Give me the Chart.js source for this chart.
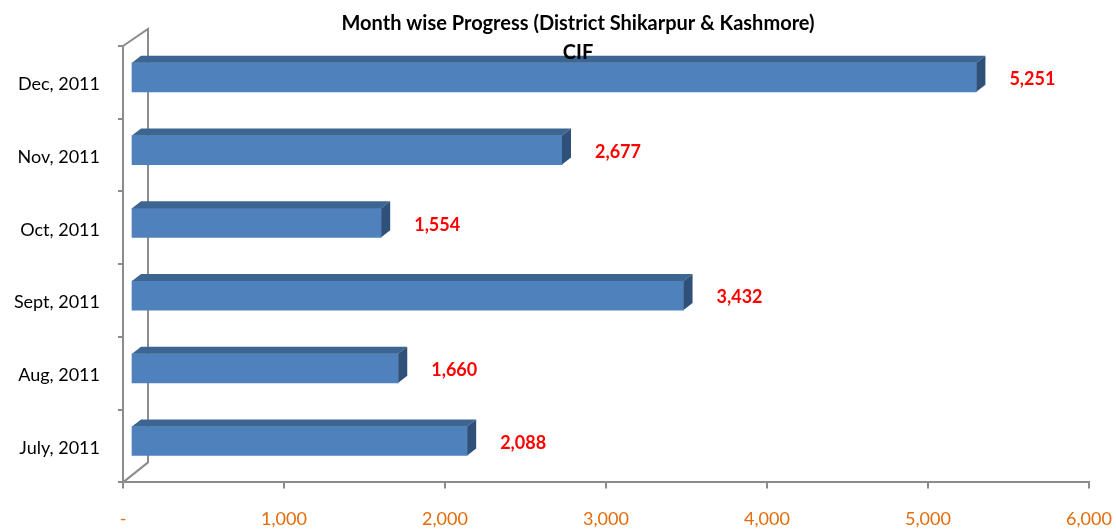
<!DOCTYPE html>
<html>
<head>
<meta charset="utf-8">
<script src="https://cdn.jsdelivr.net/npm/chart.js@4.4.1/dist/chart.umd.min.js"></script>
<style>
  html, body { margin: 0; padding: 0; background: #fff; overflow: hidden; }
  #wrap { position: relative; width: 1116px; height: 529px; }
  canvas { display: block; }
</style>
</head>
<body>
<div id="wrap"><canvas id="cifChart"></canvas></div>
<script>
const months = ['Dec, 2011', 'Nov, 2011', 'Oct, 2011', 'Sept, 2011', 'Aug, 2011', 'July, 2011'];
const cifValues = [5251, 2677, 1554, 3432, 1660, 2088];
const xTicks = [0, 1000, 2000, 3000, 4000, 5000, 6000];
const titleLines = ['Month wise Progress (District Shikarpur & Kashmore)', 'CIF'];

// 3D look: front face is pushed back into the box, top and side faces drawn after
const DEPTH_X = 8, DEPTH_Y = -5, FACE_X = 9, FACE_Y = -7;

const fake3d = {
  id: 'fake3d',
  beforeDraw(chart) {
    const ctx = chart.ctx;
    const a = chart.chartArea;
    // left side wall of the box
    ctx.save();
    ctx.strokeStyle = '#8c8c8c';
    ctx.lineWidth = 2;
    ctx.beginPath();
    ctx.moveTo(a.left, a.top);
    ctx.lineTo(a.left + 25, a.top - 17);
    ctx.lineTo(a.left + 25, a.bottom - 20);
    ctx.lineTo(a.left, a.bottom);
    ctx.stroke();
    ctx.restore();
  },
  beforeDatasetsDraw(chart) {
    chart.ctx.save();
    chart.ctx.translate(DEPTH_X, DEPTH_Y);
  },
  afterDatasetsDraw(chart) {
    const ctx = chart.ctx;
    const meta = chart.getDatasetMeta(0);
    meta.data.forEach(function(bar) {
      const p = bar.getProps(['x', 'y', 'base', 'height'], true);
      const top = p.y - p.height / 2;
      const bottom = p.y + p.height / 2;
      // top face
      ctx.fillStyle = '#3d6591';
      ctx.beginPath();
      ctx.moveTo(p.base, top);
      ctx.lineTo(p.base + FACE_X, top + FACE_Y);
      ctx.lineTo(p.x + FACE_X, top + FACE_Y);
      ctx.lineTo(p.x, top);
      ctx.closePath();
      ctx.fill();
      // side face
      ctx.fillStyle = '#2f5078';
      ctx.beginPath();
      ctx.moveTo(p.x, top);
      ctx.lineTo(p.x + FACE_X, top + FACE_Y);
      ctx.lineTo(p.x + FACE_X, bottom + FACE_Y);
      ctx.lineTo(p.x, bottom);
      ctx.closePath();
      ctx.fill();
    });
    ctx.restore();

    // value labels
    ctx.save();
    ctx.fillStyle = '#ff0000';
    ctx.font = 'bold 18px Lato';
    ctx.textBaseline = 'middle';
    ctx.textAlign = 'left';
    meta.data.forEach(function(bar, i) {
      ctx.fillText(cifValues[i].toLocaleString('en-US'), bar.x + DEPTH_X + 33, bar.y + DEPTH_Y + 2);
    });
    ctx.restore();
  },
  afterDraw(chart) {
    // chart title, drawn last so "CIF" sits over the top bar like the original
    const ctx = chart.ctx;
    ctx.save();
    ctx.fillStyle = '#000';
    ctx.font = 'bold 20px Lato';
    ctx.textAlign = 'center';
    ctx.textBaseline = 'middle';
    ctx.fillText(titleLines[0], 578, 24);
    ctx.fillText(titleLines[1], 578, 53);
    ctx.restore();
  }
};

new Chart(document.getElementById('cifChart'), {
  type: 'bar',
  data: {
    labels: months,
    datasets: [{
      label: 'CIF',
      data: cifValues,
      backgroundColor: '#4f81bd',
      borderWidth: 0,
      barThickness: 29
    }]
  },
  options: {
    indexAxis: 'y',
    responsive: true,
    maintainAspectRatio: false,
    animation: false,
    layout: { padding: { left: 0, right: 0, top: 46, bottom: -21 } },
    plugins: {
      legend: { display: false },
      tooltip: { enabled: false },
      title: { display: false }
    },
    scales: {
      x: {
        min: 0,
        max: 6000,
        afterBuildTicks(scale) {
          scale.ticks = xTicks.map(v => ({ value: v }));
        },
        afterFit(scale) { scale.paddingRight = 27; },
        grid: { drawOnChartArea: false, drawTicks: true, tickLength: 6, color: '#8c8c8c', lineWidth: 2 },
        border: { color: '#8c8c8c', width: 2 },
        ticks: {
          color: '#e46c0a',
          padding: 20,
          font: { family: 'Lato', size: 18 },
          maxRotation: 0,
          callback: v => v === 0 ? '-' : v.toLocaleString('en-US')
        }
      },
      y: {
        afterFit(scale) { scale.width = 123; },
        grid: { drawOnChartArea: false, drawTicks: true, tickLength: 5, color: '#8c8c8c', lineWidth: 2 },
        border: { color: '#8c8c8c', width: 2 },
        ticks: {
          color: '#000',
          padding: 18,
          labelOffset: 2,
          font: { family: 'Lato', size: 18 }
        }
      }
    }
  },
  plugins: [fake3d]
});
</script>
</body>
</html>
